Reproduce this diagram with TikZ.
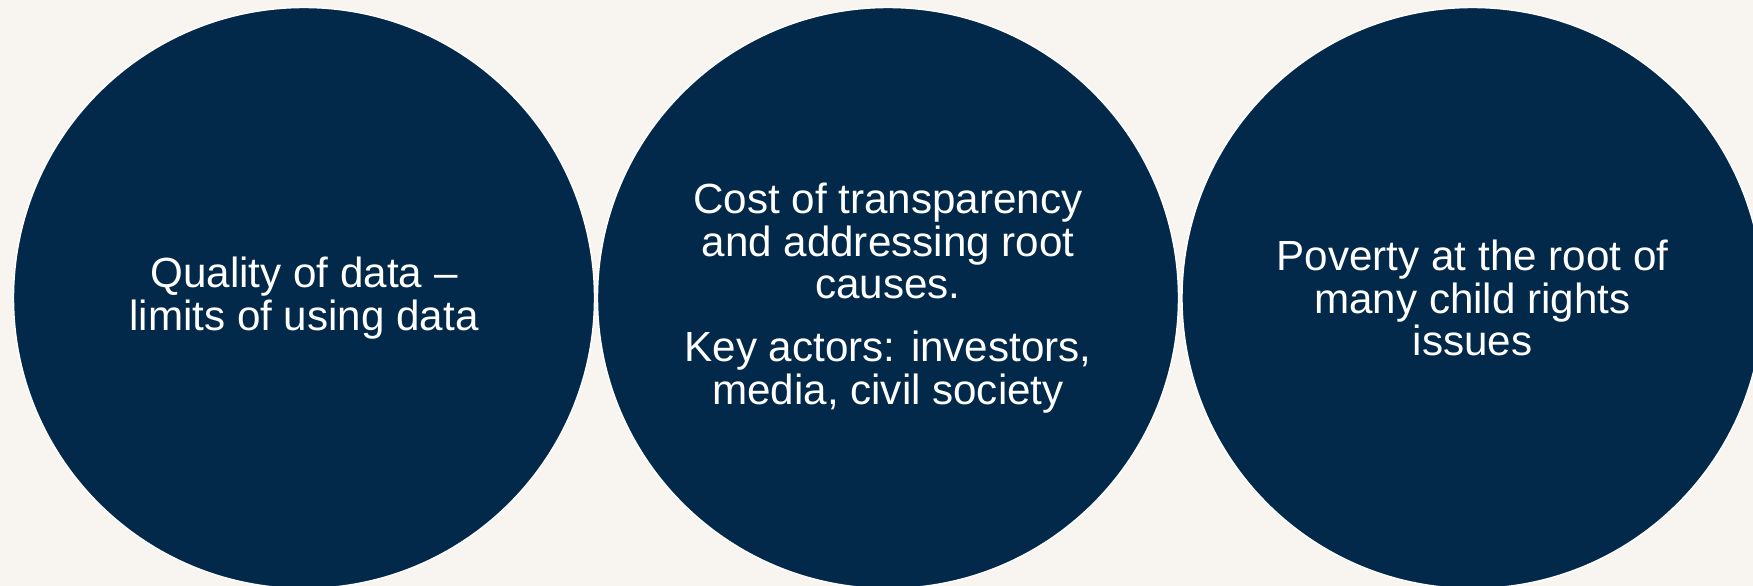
\documentclass[tikz,border=0pt]{standalone}
\usepackage{fontspec}
\setmainfont{Liberation Sans}
\usepackage{xcolor}
\definecolor{bgCream}{HTML}{F8F5F0}
\definecolor{navyFill}{HTML}{03294A}
\tikzset{
    issue/.style={circle, fill=navyFill, draw=white, line width=0.8pt,
      minimum size=11.62cm, inner sep=0pt, text=white, align=center,
      font=\fontsize{24}{24.4}\selectfont}
}

\begin{document}
\begin{tikzpicture}
  % Parameters
  \def\W{35.06} % picture width
  \def\H{11.72} % picture height
  \def\cy{-5.96} % centre line of the circles

  % Background
  \fill[bgCream] (0,0) rectangle (\W,-\H);
  \path[use as bounding box] (0,0) rectangle (\W,-\H);
  \clip (0,0) rectangle (\W,-\H);

  % Three issue circles
  \node[issue] (quality) at (6.08,\cy)
    {Quality of data --\\limits of using data};
  \node[issue] (cost) at (17.76,\cy)
    {Cost of transparency\\and addressing root\\causes.\\[0.4cm]
     Key actors: investors,\\media, civil society};
  \node[issue] (poverty) at (29.45,\cy)
    {Poverty at the root of\\many child rights\\issues};

\end{tikzpicture}
\end{document}
